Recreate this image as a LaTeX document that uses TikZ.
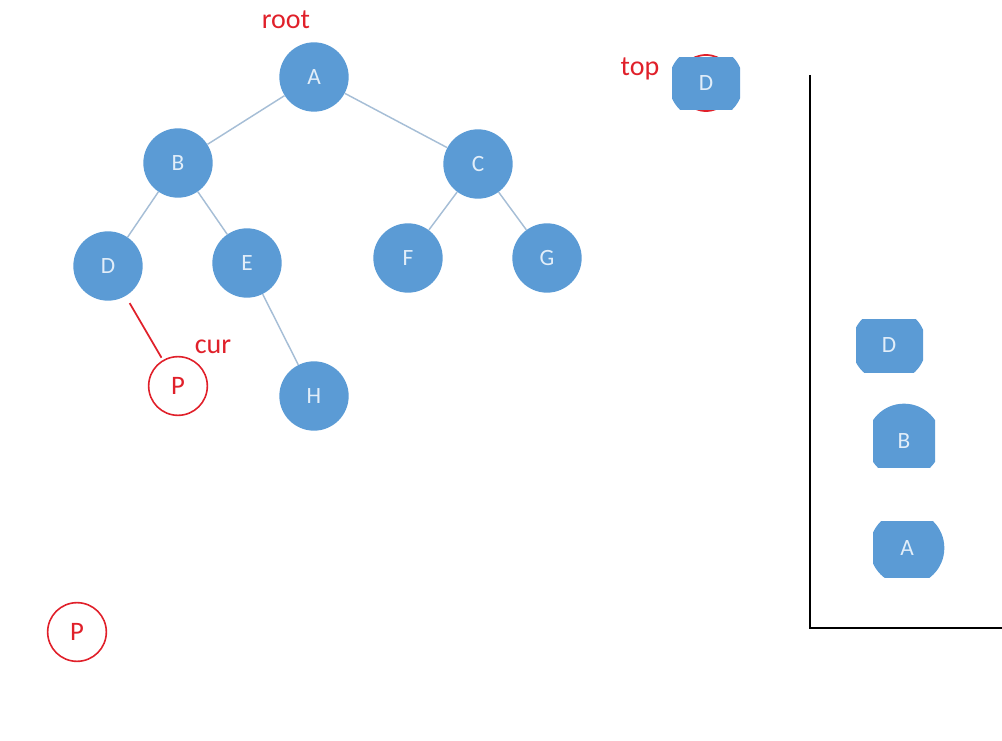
\documentclass[tikz,border=0pt]{standalone}
\usepackage{fontspec}
\setmainfont{Carlito}
\definecolor{nodeblue}{HTML}{5B9BD5}
\definecolor{nodetext}{HTML}{E2EEF9}
\definecolor{edgegray}{HTML}{A6BED6}
\definecolor{markred}{HTML}{E0202A}

\begin{document}
\begin{tikzpicture}[x=0.75pt,y=-0.75pt,
    tnode/.style={circle, fill=nodeblue, inner sep=0pt, minimum size=52pt,
        text=nodetext, font=\fontsize{17.5}{20}\selectfont},
    snode/.style={tnode, minimum size=56pt},
    pnode/.style={circle, draw=markred, line width=1.2pt, inner sep=0pt,
        minimum size=44pt, text=markred, font=\fontsize{20}{24}\selectfont},
    redlabel/.style={text=markred, font=\fontsize{21}{25}\selectfont},
    edge/.style={draw=edgegray, line width=1.1pt}]
    \useasboundingbox (0,0) rectangle (1002,741);

    % binary tree
    \node[tnode] (A) at (314,77) {A};
    \node[tnode] (B) at (178,163) {B};
    \node[tnode] (C) at (478,164) {C};
    \node[tnode] (D) at (108,266) {D};
    \node[tnode] (E) at (247,263) {E};
    \node[tnode] (F) at (408,258) {F};
    \node[tnode] (G) at (547,258) {G};
    \node[tnode] (H) at (314,396) {H};

    \path[edge] (A) -- (B);
    \path[edge] (A) -- (C);
    \path[edge] (B) -- (D);
    \path[edge] (B) -- (E);
    \path[edge] (C) -- (F);
    \path[edge] (C) -- (G);
    \path[edge] (E) -- (H);

    \node[redlabel] (root) at (286,20) {root};

    % cur
    \node[pnode] (P1) at (178,386) {P};
    \node[redlabel] (cur) at (213,347) {cur};
    \draw[markred, line width=1.3pt, shorten <=6pt, shorten >=2pt] (D) -- (P1);

    \node[pnode] (P2) at (77,632) {P};

    % top
    \node[redlabel] (top) at (640,69) {top};
    \node[circle, draw=markred, line width=1.3pt, minimum size=42pt] (topring) at (706,83) {};
    \begin{scope}
        \clip (672,58) rectangle (740,110);
        \node[snode] (topD) at (706,83) {D};
    \end{scope}

    % stack
    \coordinate (stktop) at (810,75);
    \coordinate (stkbot) at (810,628);
    \coordinate (stkend) at (1002,628);
    \draw[line width=1.5pt] (stktop) -- (stkbot) -- (stkend);

    \begin{scope}
        \clip (856,320) rectangle (923,372);
        \node[snode] (sD) at (889,345) {D};
    \end{scope}
    \begin{scope}
        \clip (873,400) rectangle (935,467);
        \node[snode] (sB) at (904,441) {B};
    \end{scope}
    \begin{scope}
        \clip (873,521) rectangle (950,577);
        \node[snode] (sA) at (907,548) {A};
    \end{scope}
\end{tikzpicture}
\end{document}
